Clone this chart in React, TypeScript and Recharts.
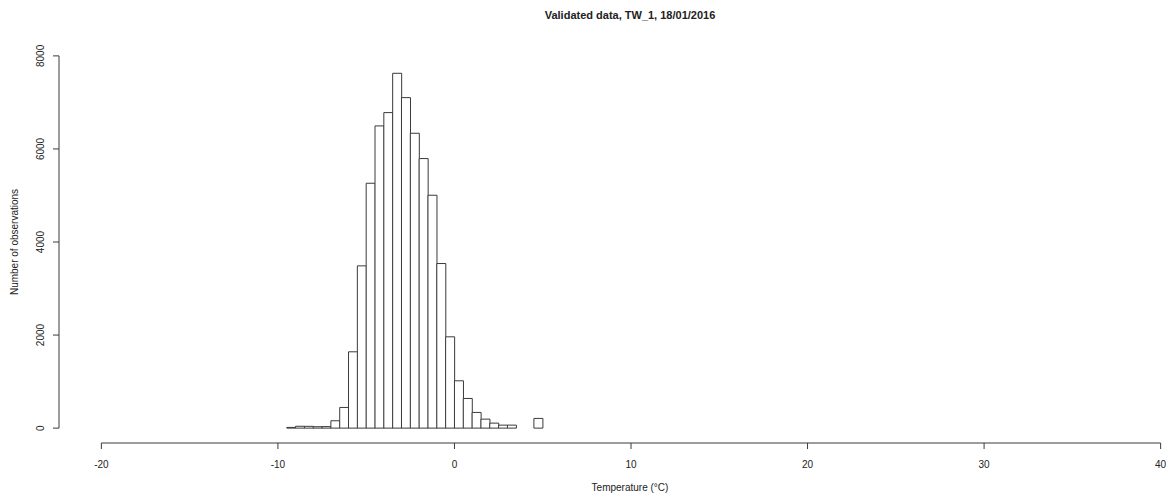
import React from 'react';
import { BarChart, Bar, XAxis, YAxis, ReferenceLine } from 'recharts';

// histogram bins (left edge, width 0.5 °C) and counts
const binStarts = [
  -9.5, -9, -8.5, -8, -7.5, -7, -6.5, -6, -5.5, -5, -4.5, -4, -3.5, -3, -2.5,
  -2, -1.5, -1, -0.5, 0, 0.5, 1, 1.5, 2, 2.5, 3, 3.5, 4, 4.5,
];
const counts = [
  15, 40, 38, 30, 32, 158, 444, 1640, 3487, 5263, 6495, 6781, 7626, 7103, 6337,
  5793, 5005, 3537, 1962, 1017, 637, 337, 193, 107, 64, 64, 0, 0, 208,
];
const binWidth = 0.5;
const xTicks = [-20, -10, 0, 10, 20, 30, 40];
const yTicks = [0, 2000, 4000, 6000, 8000];

const font = '"Liberation Sans", Arial, sans-serif';
const ink = '#222';
const line = '#3a3a3a';

const data = binStarts.map((s, i) => ({ mid: s + binWidth / 2, count: counts[i] }));

const YTick = ({ x, y, payload }: any) => (
  <text
    x={x - 7}
    y={y}
    transform={`rotate(-90, ${x - 7}, ${y})`}
    textAnchor="middle"
    fontSize={10}
    fontFamily={font}
    fill={ink}
  >
    {payload.value}
  </text>
);

export default function App() {
  return (
    <div
      style={{
        position: 'absolute',
        left: 0,
        top: 0,
        width: 1175,
        height: 497,
        overflow: 'hidden',
        background: '#fff',
        fontFamily: font,
        color: ink,
      }}
    >
      <BarChart
        width={1203}
        height={497}
        data={data}
        margin={{ top: 41, right: 0, bottom: 0, left: 0 }}
        barCategoryGap={0}
        barGap={0}
      >
        <XAxis
          dataKey="mid"
          type="number"
          domain={[-22.4, 42.4]}
          ticks={xTicks}
          interval={0}
          allowDataOverflow
          axisLine={false}
          tickLine={{ stroke: line }}
          tickSize={6}
          tickMargin={12}
          height={54}
          tick={{ fontSize: 10, fill: ink, fontFamily: font }}
        />
        <YAxis
          type="number"
          domain={[-320, 8320]}
          ticks={yTicks}
          interval={0}
          allowDataOverflow
          axisLine={false}
          tickLine={{ stroke: line }}
          tickSize={6}
          width={59}
          tick={<YTick />}
        />
        <ReferenceLine
          segment={[{ x: -20, y: -320 }, { x: 40, y: -320 }]}
          stroke={line}
          ifOverflow="visible"
        />
        <ReferenceLine
          segment={[{ x: -22.4, y: 0 }, { x: -22.4, y: 8000 }]}
          stroke={line}
          ifOverflow="visible"
        />
        <Bar dataKey="count" fill="#fff" stroke={line} strokeWidth={1} isAnimationActive={false} />
      </BarChart>
      <div
        style={{
          position: 'absolute',
          left: 630,
          top: 9,
          transform: 'translateX(-50%)',
          fontSize: 11,
          lineHeight: '13px',
          fontWeight: 'bold',
          whiteSpace: 'nowrap',
        }}
      >
        Validated data, TW_1, 18/01/2016
      </div>
      <div
        style={{
          position: 'absolute',
          left: 630,
          top: 482,
          transform: 'translateX(-50%)',
          fontSize: 10,
          lineHeight: '12px',
          whiteSpace: 'nowrap',
        }}
      >
        Temperature (°C)
      </div>
      <div
        style={{
          position: 'absolute',
          left: 15,
          top: 242,
          transform: 'translate(-50%, -50%) rotate(-90deg)',
          fontSize: 10,
          lineHeight: '12px',
          whiteSpace: 'nowrap',
        }}
      >
        Number of observations
      </div>
    </div>
  );
}
